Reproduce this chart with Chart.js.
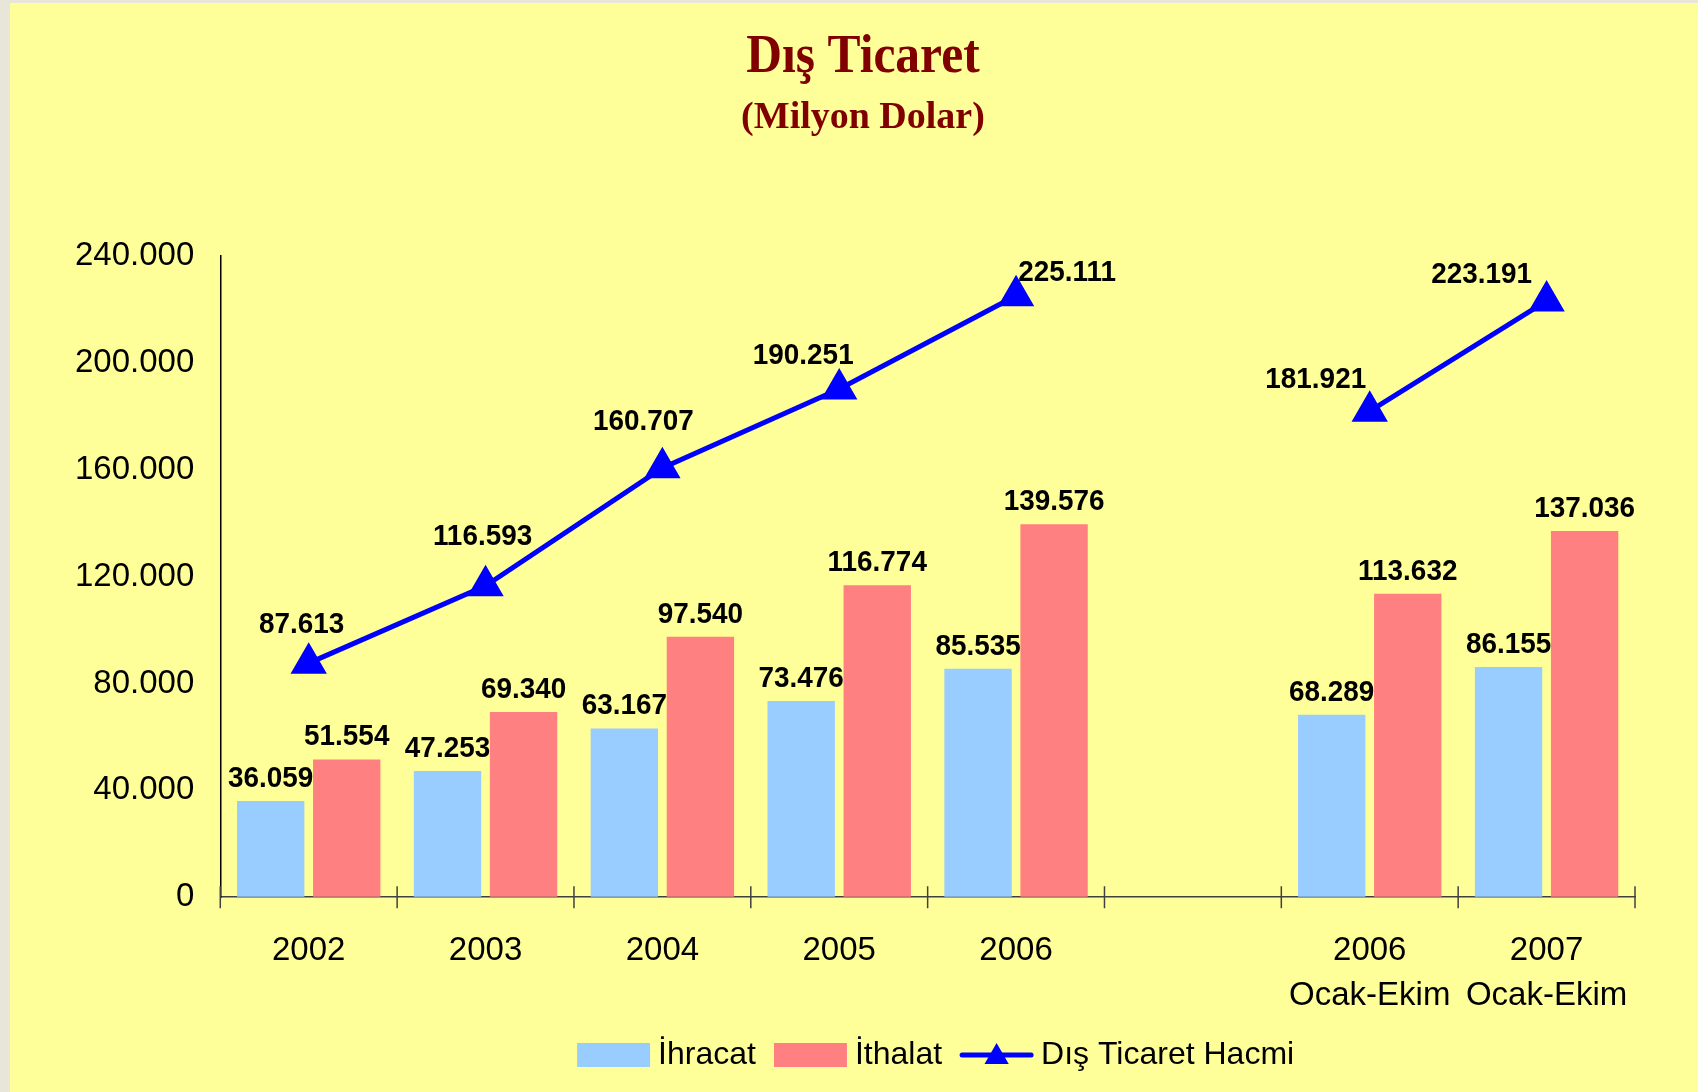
<!DOCTYPE html>
<html>
<head>
<meta charset="utf-8">
<title>Dış Ticaret</title>
<script src="https://cdn.jsdelivr.net/npm/chart.js@4.4.0/dist/chart.umd.min.js"></script>
<style>
  html, body { margin: 0; padding: 0; background: #e8e6d8; }
  #wrap { position: absolute; left: 10px; top: 3px; width: 1688px; height: 1089px; background: #ffff99; }
</style>
</head>
<body>
<div id="wrap"><canvas id="chart"></canvas></div>
<script>
const categories = ["2002", "2003", "2004", "2005", "2006", "", ["2006", "Ocak-Ekim"], ["2007", "Ocak-Ekim"]];
const ihracat = [36059, 47253, 63167, 73476, 85535, null, 68289, 86155];
const ithalat = [51554, 69340, 97540, 116774, 139576, null, 113632, 137036];
const hacim = [87613, 116593, 160707, 190251, 225111, null, 181921, 223191];
const yTicks = [0, 40000, 80000, 120000, 160000, 200000, 240000];
const titleText = "Dış Ticaret";
const subtitleText = "(Milyon Dolar)";

// where each volume label sits relative to its point (dx, baseline dy)
const lineLabelOffsets = [[-7, -30], [-3, -41], [-19, -38], [-36, -25], [51, -15], [0, 0], [-54, -23], [-65, -18]];

const SANS = "'Liberation Sans', Arial, sans-serif";
const SERIF = "'Liberation Serif', 'Times New Roman', serif";

function formatNumber(v) {
  return String(v).replace(/\B(?=(\d{3})+(?!\d))/g, ".");
}

function drawTriangle(ctx, x, y, r) {
  let rad = 0;
  ctx.beginPath();
  ctx.moveTo(x + Math.sin(rad) * r, y - Math.cos(rad) * r);
  rad += Math.PI * 2 / 3;
  ctx.lineTo(x + Math.sin(rad) * r, y - Math.cos(rad) * r);
  rad += Math.PI * 2 / 3;
  ctx.lineTo(x + Math.sin(rad) * r, y - Math.cos(rad) * r);
  ctx.closePath();
  ctx.fill();
}

function squeezedText(ctx, text, x, y, sx) {
  ctx.save();
  ctx.translate(x, y);
  ctx.scale(sx, 1);
  ctx.fillText(text, 0, 0);
  ctx.restore();
}

const titles = {
  id: "titles",
  afterDraw(chart) {
    const ctx = chart.ctx;
    ctx.save();
    ctx.fillStyle = "#800000";
    ctx.textAlign = "center";
    ctx.textBaseline = "alphabetic";
    ctx.font = "bold 55px " + SERIF;
    squeezedText(ctx, titleText, 853, 69, 0.9);
    ctx.font = "bold 38px " + SERIF;
    squeezedText(ctx, subtitleText, 853, 125, 1);
    ctx.restore();
  }
};

const axisTicks = {
  id: "axisTicks",
  beforeDatasetsDraw(chart) {
    const { ctx, chartArea, scales } = chart;
    const x = scales.x;
    const half = (x.getPixelForValue(1) - x.getPixelForValue(0)) / 2;
    ctx.save();
    ctx.strokeStyle = "#404040";
    ctx.lineWidth = 1.5;
    for (let i = 0; i <= categories.length; i++) {
      const px = x.getPixelForValue(0) - half + i * half * 2;
      ctx.beginPath();
      ctx.moveTo(px, chartArea.bottom - 11);
      ctx.lineTo(px, chartArea.bottom + 11);
      ctx.stroke();
    }
    ctx.restore();
  }
};

const valueLabels = {
  id: "valueLabels",
  afterDatasetsDraw(chart) {
    const ctx = chart.ctx;
    ctx.save();
    ctx.font = "bold 30px " + SANS;
    ctx.fillStyle = "#000";
    ctx.textAlign = "center";
    ctx.textBaseline = "alphabetic";
    chart.data.datasets.forEach((ds, di) => {
      const meta = chart.getDatasetMeta(di);
      meta.data.forEach((el, i) => {
        const v = ds.data[i];
        if (v == null) return;
        if (ds.type === "line") {
          const [dx, dy] = lineLabelOffsets[i];
          squeezedText(ctx, formatNumber(v), el.x + dx, el.y + dy, 0.93);
        } else {
          squeezedText(ctx, formatNumber(v), el.x, el.y - 14, 0.93);
        }
      });
    });
    ctx.restore();
  }
};

const bottomLegend = {
  id: "bottomLegend",
  afterDraw(chart) {
    const { ctx, chartArea } = chart;
    const cy = 1052;
    ctx.save();
    ctx.font = "32px " + SANS;
    ctx.textBaseline = "middle";
    ctx.textAlign = "left";
    const items = chart.data.datasets.map((ds) => ({
      ds,
      mark: 73,
      text: ds.label,
      tw: ctx.measureText(ds.label).width,
    }));
    const total = items.reduce((s, it) => s + it.mark + 8 + it.tw, 0) + 18 * (items.length - 1);
    let x = (chartArea.left + chartArea.right) / 2 + 8 - total / 2;
    items.forEach((it) => {
      if (it.ds.type === "line") {
        ctx.strokeStyle = it.ds.borderColor;
        ctx.lineWidth = 5;
        ctx.lineCap = "round";
        ctx.beginPath();
        ctx.moveTo(x + 2, cy);
        ctx.lineTo(x + it.mark - 2, cy);
        ctx.stroke();
        ctx.fillStyle = it.ds.pointBackgroundColor;
        drawTriangle(ctx, x + it.mark / 2, cy + 2, 14);
      } else {
        ctx.fillStyle = it.ds.backgroundColor;
        ctx.fillRect(x, cy - 12, it.mark, 24);
      }
      x += it.mark + 8;
      ctx.fillStyle = "#000";
      ctx.fillText(it.text, x, cy);
      x += it.tw + 18;
    });
    ctx.restore();
  }
};

new Chart(document.getElementById("chart"), {
  type: "bar",
  data: {
    labels: categories,
    datasets: [
      {
        label: "İhracat",
        data: ihracat,
        backgroundColor: "#99ccff",
        categoryPercentage: 0.86,
        barPercentage: 0.886,
        order: 1,
      },
      {
        label: "İthalat",
        data: ithalat,
        backgroundColor: "#ff8080",
        categoryPercentage: 0.86,
        barPercentage: 0.886,
        order: 1,
      },
      {
        type: "line",
        label: "Dış Ticaret Hacmi",
        data: hacim,
        borderColor: "#0000ff",
        backgroundColor: "#0000ff",
        pointBackgroundColor: "#0000ff",
        pointBorderColor: "#0000ff",
        borderWidth: 5,
        pointStyle: "triangle",
        pointRadius: 16,
        pointHoverRadius: 16,
        spanGaps: false,
        tension: 0,
        order: 0,
      },
    ],
  },
  options: {
    responsive: true,
    maintainAspectRatio: false,
    animation: false,
    layout: { padding: { left: 39, right: 63, top: 253, bottom: 51 } },
    plugins: {
      legend: { display: false },
      tooltip: { enabled: false },
      title: { display: false },
    },
    scales: {
      x: {
        grid: { display: false },
        border: { color: "#404040", width: 1.5 },
        ticks: {
          color: "#000",
          padding: 23,
          maxRotation: 0,
          autoSkip: false,
          font: { family: SANS, size: 33, lineHeight: 1.36 },
        },
      },
      y: {
        min: 0,
        max: 240000,
        afterBuildTicks(scale) {
          scale.ticks = yTicks.map((v) => ({ value: v }));
        },
        grid: { drawOnChartArea: false, drawTicks: false },
        border: { color: "#000", width: 1.5 },
        ticks: {
          color: "#000",
          padding: 26,
          font: { family: SANS, size: 33 },
          callback: (v) => formatNumber(v),
        },
      },
    },
  },
  plugins: [titles, axisTicks, valueLabels, bottomLegend],
});
</script>
</body>
</html>
